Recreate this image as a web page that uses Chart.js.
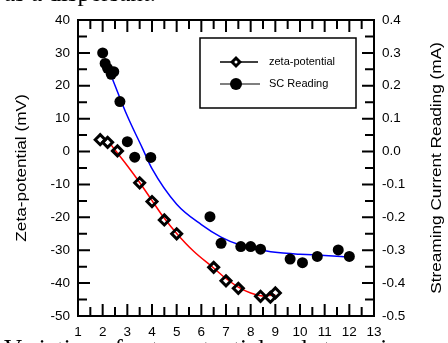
<!DOCTYPE html>
<html>
<head>
<meta charset="utf-8">
<script src="https://cdn.jsdelivr.net/npm/chart.js@4.4.0/dist/chart.umd.min.js"></script>
<style>
html, body { margin: 0; padding: 0; width: 448px; height: 343px; overflow: hidden; background: #fff; }
#wrap { position: relative; width: 448px; height: 343px; overflow: hidden; }
#mychart { position: absolute; left: 0; top: 0; }
.cut { position: absolute; left: 4px; font-family: "Liberation Serif", "Times New Roman", serif; font-size: 25px; line-height: 30px; white-space: nowrap; color: #000; }
</style>
</head>
<body>
<div id="wrap">
<canvas id="mychart" width="448" height="343"></canvas>
<div class="cut" style="top:-22px">as a dispersant.</div>
<div class="cut" style="top:334px">Variation of zeta-potential and streaming current with pH</div>
</div>
<script>
// measured points
const zetaX = [1.9, 2.2, 2.6, 3.5, 4.0, 4.5, 5.0, 6.5, 7.0, 7.5, 8.4, 8.8, 9.0];
const zetaY = [3.6, 2.8, 0.2, -9.5, -15.2, -20.8, -25.0, -35.2, -39.3, -41.6, -44.0, -44.3, -43.0];

const scX = [2.0, 2.1, 2.2, 2.35, 2.45, 2.7, 3.0, 3.3, 3.95, 6.35, 6.8, 7.6, 8.0, 8.4, 9.6, 10.1, 10.7, 11.55, 12.0];
const scY = [0.30, 0.268, 0.253, 0.235, 0.243, 0.152, 0.03, -0.017, -0.018, -0.198, -0.279, -0.289, -0.289, -0.297, -0.327, -0.338, -0.319, -0.299, -0.319];

// fitted curves
const redX = [2.3, 3.0, 3.5, 4.0, 4.5, 5.0, 5.7, 6.5, 7.0, 7.5, 8.0, 8.5, 9.0];
const redY = [2.4, -4.3, -9.4, -14.9, -20.3, -24.9, -30.4, -35.4, -38.6, -41.2, -43.0, -43.9, -43.5];

const blueX = [2.4, 3.0, 3.6, 4.0, 5.0, 6.0, 6.8, 7.6, 8.5, 9.2, 10.0, 11.0, 12.0];
const blueY = [0.22, 0.108, 0.012, -0.052, -0.160, -0.222, -0.260, -0.285, -0.301, -0.308, -0.312, -0.316, -0.321];

const xTicks = [1, 13];
const leftTicks = [-50, 40];
const rightTicks = [-0.5, 0.4];

const leftTitle = 'Zeta-potential (mV)';
const rightTitle = 'Streaming Current Reading (mA)';
const legendLabels = ['zeta-potential', 'SC Reading'];

function pts(xs, ys) {
    return xs.map((x, i) => ({ x: x, y: ys[i] }));
}

Chart.defaults.font.family = '"Liberation Sans", Arial, sans-serif';
Chart.defaults.color = '#000';

const frame = {
    id: 'frame',
    afterDraw(chart) {
        let ctx = chart.ctx;
        let a = chart.chartArea;
        let sx = chart.scales.x, sy = chart.scales.y, sy1 = chart.scales.y1;
        ctx.save();
        ctx.strokeStyle = '#000';
        ctx.lineWidth = 2;
        ctx.strokeRect(a.left, a.top, a.right - a.left, a.bottom - a.top);

        // inward tick marks
        ctx.beginPath();
        for (let i = 0; i <= (xTicks[1] - xTicks[0]) * 2; i++) {
            let v = xTicks[0] + i * 0.5;
            let px = sx.getPixelForValue(v);
            let len = i % 2 === 0 ? 12 : 9;
            ctx.moveTo(px, a.bottom); ctx.lineTo(px, a.bottom - len);
            ctx.moveTo(px, a.top); ctx.lineTo(px, a.top + len);
        }
        for (let v = leftTicks[0]; v <= leftTicks[1]; v += 5) {
            let py = sy.getPixelForValue(v);
            let len = v % 10 === 0 ? 12 : 9;
            ctx.moveTo(a.left, py); ctx.lineTo(a.left + len, py);
        }
        for (let i = 0; i <= 18; i++) {
            let py = sy1.getPixelForValue(rightTicks[0] + i * 0.05);
            let len = i % 2 === 0 ? 12 : 9;
            ctx.moveTo(a.right, py); ctx.lineTo(a.right - len, py);
        }
        ctx.stroke();

        // axis titles, reading bottom to top on both sides
        let midY = (a.top + a.bottom) / 2;
        ctx.fillStyle = '#000';
        ctx.font = '14px "Liberation Sans", Arial, sans-serif';
        ctx.textAlign = 'center';
        ctx.textBaseline = 'middle';
        [[22, leftTitle], [437, rightTitle]].forEach(function (t) {
            ctx.save();
            ctx.translate(t[0], midY);
            ctx.rotate(-Math.PI / 2);
            ctx.scale(1.23, 1);
            ctx.fillText(t[1], 0, 0);
            ctx.restore();
        });

        // legend box
        ctx.lineWidth = 1.5;
        ctx.strokeRect(200, 38, 156, 70);
        ctx.strokeStyle = '#000';
        ctx.beginPath(); ctx.moveTo(220, 62); ctx.lineTo(258, 62); ctx.stroke();
        ctx.strokeStyle = '#555';
        ctx.beginPath(); ctx.moveTo(220, 84); ctx.lineTo(260, 84); ctx.stroke();

        ctx.fillStyle = '#000';
        ctx.beginPath();
        ctx.moveTo(236, 56); ctx.lineTo(242, 62); ctx.lineTo(236, 68); ctx.lineTo(230, 62);
        ctx.closePath(); ctx.fill();
        ctx.fillStyle = '#fff';
        ctx.beginPath(); ctx.arc(236, 62, 1.5, 0, Math.PI * 2); ctx.fill();
        ctx.fillStyle = '#000';
        ctx.beginPath(); ctx.arc(236, 84, 6, 0, Math.PI * 2); ctx.fill();

        ctx.font = '11px "Liberation Sans", Arial, sans-serif';
        ctx.textAlign = 'left';
        ctx.fillText(legendLabels[0], 269, 62);
        ctx.fillText(legendLabels[1], 269, 84);
        ctx.restore();
    }
};

function showChart() {
    let chartdata = {
        datasets: [{
            label: legendLabels[0],
            data: pts(zetaX, zetaY),
            yAxisID: 'y',
            pointStyle: 'rectRot',
            pointRadius: 5,
            pointBorderWidth: 3,
            pointBorderColor: '#000',
            pointBackgroundColor: 'rgba(255,255,255,0)',
            showLine: false,
            order: 1
        }, {
            label: legendLabels[1],
            data: pts(scX, scY),
            yAxisID: 'y1',
            pointStyle: 'circle',
            pointRadius: 5.5,
            pointBorderWidth: 0,
            pointBackgroundColor: '#000',
            showLine: false,
            order: 2
        }, {
            label: 'zeta fit',
            data: pts(redX, redY),
            yAxisID: 'y',
            showLine: true,
            borderColor: '#ff0000',
            borderWidth: 1.5,
            pointRadius: 0,
            cubicInterpolationMode: 'monotone',
            order: 3
        }, {
            label: 'SC fit',
            data: pts(blueX, blueY),
            yAxisID: 'y1',
            showLine: true,
            borderColor: '#0000ff',
            borderWidth: 1.5,
            pointRadius: 0,
            cubicInterpolationMode: 'monotone',
            order: 4
        }]
    };

    let tickFont = { size: 13.5 };
    let ctx = document.getElementById('mychart');
    let myChart = new Chart(ctx, {
        type: 'scatter',
        data: chartdata,
        options: {
            responsive: false,
            animation: false,
            devicePixelRatio: 1,
            layout: { padding: { top: 20, left: 0, right: 0, bottom: 0 } },
            plugins: { legend: { display: false }, tooltip: { enabled: false } },
            scales: {
                x: {
                    type: 'linear',
                    position: 'bottom',
                    min: xTicks[0],
                    max: xTicks[1],
                    grid: { display: false, drawTicks: false },
                    border: { display: false },
                    ticks: { stepSize: 1, padding: 8, font: tickFont, color: '#000', maxRotation: 0, autoSkip: false },
                    afterFit: function (s) { s.height = 27; }
                },
                y: {
                    position: 'left',
                    min: leftTicks[0],
                    max: leftTicks[1],
                    grid: { display: false, drawTicks: false },
                    border: { display: false },
                    ticks: { stepSize: 10, padding: 8, font: tickFont, color: '#000' },
                    afterFit: function (s) { s.width = 78; }
                },
                y1: {
                    position: 'right',
                    min: rightTicks[0],
                    max: rightTicks[1],
                    grid: { display: false, drawTicks: false },
                    border: { display: false },
                    ticks: {
                        stepSize: 0.1, padding: 8, font: tickFont, color: '#000',
                        callback: function (v) { return Math.abs(v) < 1e-9 ? '0.0' : v.toFixed(1); }
                    },
                    afterFit: function (s) { s.width = 74; }
                }
            }
        },
        plugins: [frame]
    });
}

showChart();
</script>
</body>
</html>
